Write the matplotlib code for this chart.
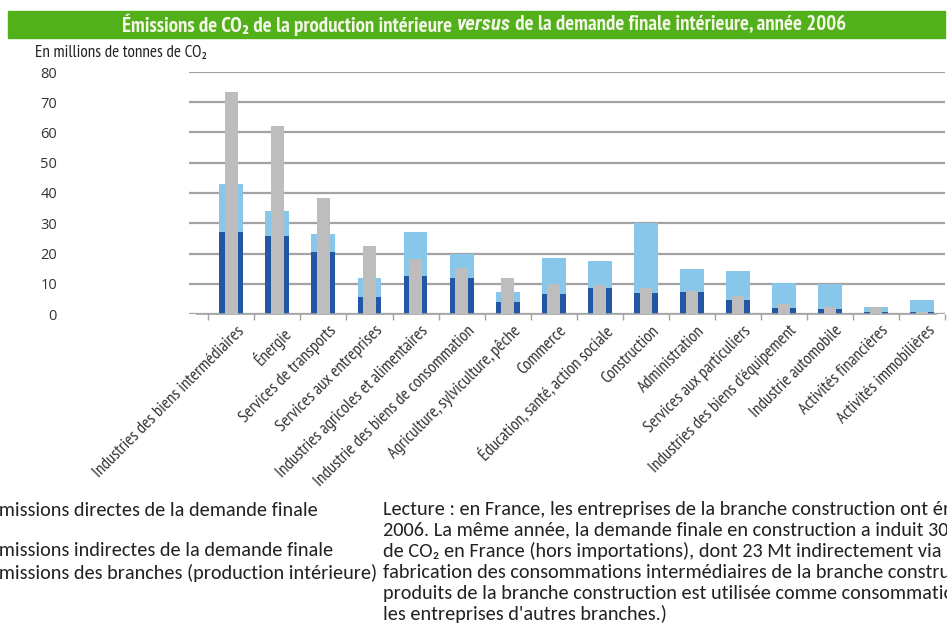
import numpy as np
import matplotlib
matplotlib.use('Agg')
import matplotlib.pyplot as plt
from matplotlib.patches import Rectangle
from matplotlib import transforms
from matplotlib import font_manager as fm

# branches (ordre du graphique)
categories = [
    "Industries des biens intermédiaires", "Énergie", "Services de transports",
    "Services aux entreprises", "Industries agricoles et alimentaires",
    "Industrie des biens de consommation", "Agriculture, sylviculture, pêche",
    "Commerce", "Éducation, santé, action sociale", "Construction",
    "Administration", "Services aux particuliers",
    "Industries des biens d'équipement", "Industrie automobile",
    "Activités financières", "Activités immobilières",
]
# en millions de tonnes de CO2
directes = [27.0, 25.9, 20.4, 5.5, 12.7, 12.0, 4.1, 6.6, 8.5, 7.0, 7.2, 4.7, 2.1, 1.8, 0.6, 0.6]
indirectes = [15.9, 8.3, 6.1, 6.5, 14.3, 7.9, 3.1, 11.8, 9.0, 23.0, 7.7, 9.5, 8.3, 8.1, 1.7, 4.1]
production = [73.5, 62.3, 38.4, 22.6, 18.2, 15.1, 11.8, 9.9, 9.6, 8.5, 7.5, 6.1, 3.2, 2.3, 2.2, 0.8]
yticks = [0, 10, 20, 30, 40, 50, 60, 70, 80]

legende = [
    "Émissions directes de la demande finale",
    "Émissions indirectes de la demande finale",
    "Émissions des branches (production intérieure)",
]
lecture = [
    "Lecture : en France, les entreprises de la branche construction ont émis 9 Mt de CO₂ en",
    "2006. La même année, la demande finale en construction a induit 30 Mt d'émissions",
    "de CO₂ en France (hors importations), dont 23 Mt indirectement via la",
    "fabrication des consommations intermédiaires de la branche construction. (Une partie des",
    "produits de la branche construction est utilisée comme consommation intermédiaire par",
    "les entreprises d'autres branches.)",
]

# polices : une étroite pour le graphique, une proche de Calibri pour le texte
installed = {f.name for f in fm.fontManager.ttflist}
def pick(*names):
    for n in names:
        if n in installed:
            return [n, 'DejaVu Sans']
    return ['DejaVu Sans']
narrow = pick('PT Sans Narrow', 'Roboto Condensed', 'Open Sans Condensed',
              'Liberation Sans Narrow', 'Lato')
narrow_it = pick('Roboto Condensed', 'Open Sans Condensed', 'PT Sans Narrow', 'Lato')
body = pick('Carlito', 'Lato', 'Open Sans')
digits = pick('Open Sans', 'Lato')

dark = '#2456a6'
light = '#88c6ea'
grey = '#bdbdbd'
gridc = '#a3a3a3'
txt = '#333333'

W, H = 947, 632
fig = plt.figure(figsize=(W / 100, H / 100), dpi=100)

def px(x, y):
    return x / W, 1 - y / H

# zone du graphique
x0, y0 = px(189, 314)
x1, y1 = px(945, 72)
ax = fig.add_axes([x0, y0, x1 - x0, y1 - y0])

x = np.arange(len(categories))
ax.bar(x, directes, width=0.52, color=dark, zorder=2)
ax.bar(x, indirectes, bottom=directes, width=0.52, color=light, zorder=2)
ax.bar(x, production, width=0.27, color=grey, zorder=3)

ax.set_ylim(0, 80)
ax.set_xlim(-0.92, 15.3)
ax.set_yticks(yticks)
ax.yaxis.grid(True, color=gridc, lw=1.6)
ax.set_axisbelow(True)
for s in ['top', 'right', 'left']:
    ax.spines[s].set_visible(False)
ax.spines['bottom'].set_color(gridc)
ax.spines['bottom'].set_linewidth(1.2)
ax.spines['bottom'].set_bounds(-0.75, 15.3)

ax.tick_params(axis='y', length=0, pad=95, labelsize=10.5, labelcolor=txt)
for lab in ax.get_yticklabels():
    lab.set_family(digits)
    lab.set_verticalalignment('center_baseline')

ax.set_xticks(x)
ax.set_xticks(np.arange(-0.5, 16, 1), minor=True)
ax.tick_params(axis='x', which='major', length=0, pad=0)
ax.tick_params(axis='x', which='minor', length=4, color=gridc, width=1)
ax.set_xticklabels(categories, rotation=45, ha='right', va='top',
                   rotation_mode='anchor', fontsize=12.3, color=txt,
                   family=narrow)
offset = transforms.ScaledTranslation(5 / 100, -9 / 100, fig.dpi_scale_trans)
for lab in ax.get_xticklabels():
    lab.set_transform(lab.get_transform() + offset)

# bandeau de titre
bx, by = px(8, 38)
fig.patches.append(Rectangle((bx, by), (945 - 8) / W, 27 / H,
                             transform=fig.transFigure, color='#52b01a', zorder=0))
parts = [("Émissions de CO₂ de la production intérieure ", 'normal', narrow),
         ("versus", 'italic', narrow_it),
         (" de la demande finale intérieure, année 2006", 'normal', narrow)]
renderer = fig.canvas.get_renderer()
texts = []
for s, st, fam in parts:
    t = fig.text(0, 0, s, fontsize=15, fontweight='bold', style=st,
                 color='#f4f7e8', family=fam, va='center', ha='left')
    texts.append(t)
widths = [t.get_window_extent(renderer).width for t in texts]
xs = 484 - sum(widths) / 2
for t, w in zip(texts, widths):
    t.set_position(px(xs, 24.5))
    xs += w

fig.text(*px(35, 53), "En millions de tonnes de CO₂", fontsize=12.3,
         family=narrow, color='#222222', va='center', ha='left')

# légende (coupée à gauche) et note de lecture
for s, yy in zip(legende, [510, 551, 572]):
    fig.text(*px(-11, yy), s, fontsize=14.6, family=body, color='#222222',
             va='center', ha='left')
for i, s in enumerate(lecture):
    fig.text(*px(383, [510, 530, 551, 572, 594, 614][i]), s, fontsize=14.6,
             family=body, color='#222222', va='center', ha='left')

fig.savefig('out.png', dpi=100)
